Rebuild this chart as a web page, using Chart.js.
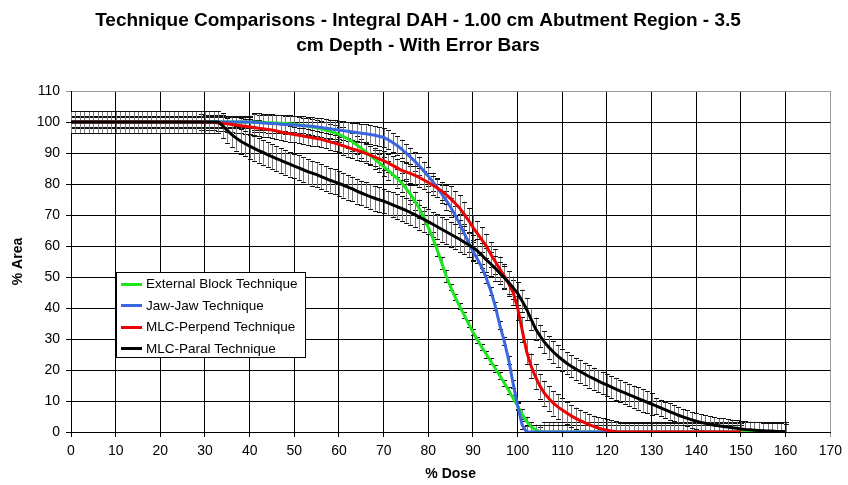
<!DOCTYPE html>
<html>
<head>
<meta charset="utf-8">
<script src="https://cdn.jsdelivr.net/npm/chart.js@4/dist/chart.umd.min.js"></script>
<style>
  html, body { margin:0; padding:0; background:#fff; }
  #wrap { position:relative; width:848px; height:485px; }
</style>
</head>
<body>
<div id="wrap"><canvas id="c" width="848" height="485"></canvas></div>
<script>
// ---------------- DATA ----------------
const TITLE_LINES = ["Technique Comparisons - Integral DAH - 1.00 cm Abutment Region - 3.5", "cm Depth - With Error Bars"];
const X_TITLE = "% Dose";
const Y_TITLE = "% Area";
const SERIES_NAMES = ["External Block Technique", "Jaw-Jaw Technique", "MLC-Perpend Technique", "MLC-Paral Technique"];

const DOSE = [
  0,1,2,3,4,5,6,7,8,9,
  10,11,12,13,14,15,16,17,18,19,
  20,21,22,23,24,25,26,27,28,29,
  30,31,32,33,34,35,36,37,38,39,
  40,41,42,43,44,45,46,47,48,49,
  50,51,52,53,54,55,56,57,58,59,
  60,61,62,63,64,65,66,67,68,69,
  70,71,72,73,74,75,76,77,78,79,
  80,81,82,83,84,85,86,87,88,89,
  90,91,92,93,94,95,96,97,98,99,
  100,101,102,103,104,105,106,107,108,109,
  110,111,112,113,114,115,116,117,118,119,
  120,121,122,123,124,125,126,127,128,129,
  130,131,132,133,134,135,136,137,138,139,
  140,141,142,143,144,145,146,147,148,149,
  150,151,152,153,154,155,156,157,158,159,
  160
];

// External Block Technique (dose 0..160)
const EXTERNAL_BLOCK = [
  100,100,100,100,100,100,100,100,100,100,
  100,100,100,100,100,100,100,100,100,100,
  100,100,100,100,100,100,100,100,100,100,
  100,100,100,100,100,100,100,100,100,100,
  100,100,99.9,99.9,99.8,99.8,99.7,99.6,99.5,99.4,
  99.3,99.1,98.9,98.7,98.4,98.1,97.8,97.4,97,96.5,
  96,95.3,94.5,93.6,92.6,91.5,90.4,89.2,88,86.8,
  85.6,84.4,83.1,81.8,80.4,78.6,76.7,74.5,72,69.2,
  66,62.5,58.7,54.5,50.3,46.7,43.5,40.6,37.8,35,
  32.2,29.7,27.3,25,22.8,20.5,18.2,15.8,13.4,10.9,
  8.4,5.8,3.4,1.7,0.7,0.2,0,0,0,0,
  0,0,0,0,0,0,0,0,0,0,
  0,0,0,0,0,0,0,0,0,0,
  0,0,0,0,0,0,0,0,0,0,
  0,0,0,0,0,0,0,0,0,0,
  0,0,0,0,0,0,0,0,0,0,
  0
];
const EXTERNAL_BLOCK_ERR = [
  2,2,2,2,2,2,2,2,2,2,
  2,2,2,2,2,2,2,2,2,2,
  2,2,2,2,2,2,2,2,2,2,
  2,2,2,2,2,2,2,2,2,2,
  2,2.5,2.5,2.5,2.5,2.5,2.5,2.5,2.5,2.5,
  2.5,2.5,2.5,2.5,2.5,2.5,2.5,2.5,2.5,2.5,
  2.5,3,3,3,3,3,3,3,3,3,
  3,3,3,3,3,3,3,3,3,2,
  2,2,2,2,2,1,1,1,1,1,
  1,1,1,1,1,1,1,1,1,1,
  1,1.5,1.5,1.5,1.5,1.5,3.3,3.3,3.3,3.3,
  3.3,3.3,3.3,3.3,3.3,3.3,3.3,3.3,3.3,3.3,
  3.3,3.3,3.3,3.3,3.3,3.3,3.3,3.3,3.3,3.3,
  3.3,3.3,3.3,3.3,3.3,3.3,3.3,3.3,3.3,3.3,
  3.3,3.3,3.3,3.3,3.3,3.3,3.3,3.3,3.3,3.3,
  3.3,3.3,3.3,3.3,3.3,3.3,3.3,3.3,3.3,3.3,
  3.3
];

// Jaw-Jaw Technique (dose 0..150)
const JAW_JAW = [
  100,100,100,100,100,100,100,100,100,100,
  100,100,100,100,100,100,100,100,100,100,
  100,100,100,100,100,100,100,100,100,100,
  100,100,100,100,100,100,100,100,100,100,
  100,99.9,99.8,99.7,99.6,99.5,99.4,99.3,99.2,99.1,
  99,98.9,98.8,98.7,98.6,98.4,98.2,98,97.8,97.6,
  97.4,97.2,97,96.8,96.6,96.4,96.2,96,95.7,95.4,
  95,94.3,93.4,92.4,91.3,90,88.7,87.3,85.8,84.2,
  82.5,80.7,78.8,76.8,74.7,72.5,70,67.2,64.2,61.2,
  58.3,55.7,53,49.5,45.5,40.5,34.5,29.3,23.2,15.5,
  8.5,2.3,0,0,0,0,0,0,0,0,
  0,0,0,0,0,0,0,0,0,0,
  0,0,0,0,0,0,0,0,0,0,
  0,0,0,0,0,0,0,0,0,0,
  0,0,0,0,0,0,0,0,0,0,
  0
];
const JAW_JAW_ERR = [
  1.6,1.6,1.6,1.6,1.6,1.6,1.6,1.6,1.6,1.6,
  1.6,1.6,1.6,1.6,1.6,1.6,1.6,1.6,1.6,1.6,
  1.6,1.6,1.6,1.6,1.6,1.6,1.6,1.6,1.6,1.6,
  1.6,1.6,1.6,1.6,1.6,1.6,1.6,1.6,1.6,1.6,
  1.6,3,3,3,3,3,3,3,3,3,
  3,3,3,3,3,3,3,3,3,3,
  3,3,3,3,3,3,3,3,3,3,
  3,3,3,3,3,3,3,3,3,3,
  3,3,3,3,3,3,3,3,3,3,
  3,1.3,1.3,1.3,1.3,1.3,1.3,1.3,1.3,1.3,
  1.3,1.3,2.4,2.4,2.4,2.4,2.4,2.4,2.4,2.4,
  2.4,2.4,2.4,2.4,2.4,2.4,2.4,2.4,2.4,2.4,
  2.4,2.4,2.4,2.4,2.4,2.4,2.4,2.4,2.4,2.4,
  2.4,2.4,2.4,2.4,2.4,2.4,2.4,2.4,2.4,2.4,
  2.4,2.4,2.4,2.4,2.4,2.4,2.4,2.4,2.4,2.4,
  2.4
];

// MLC-Perpend Technique (dose 0..150)
const MLC_PERPEND = [
  100,100,100,100,100,100,100,100,100,100,
  100,100,100,100,100,100,100,100,100,100,
  100,100,100,100,100,100,100,100,100,100,
  99.9,99.9,99.8,99.7,99.6,99.4,99.2,99,98.8,98.6,
  98.4,98.2,98,97.8,97.6,97.4,97.1,96.8,96.5,96.2,
  96,95.7,95.5,95.2,94.9,94.7,94.4,94,93.6,93.2,
  92.8,92.3,91.8,91.3,90.9,90.4,89.9,89.3,88.7,88.1,
  87.5,86.8,86,85.2,84.4,83.9,83.4,82.8,82.1,81.3,
  80.5,79.6,78.7,77.7,76.6,75.2,73.8,72.3,70.3,68.3,
  66,64,62,60,57.3,55,52.6,50.3,47.8,45,
  40,33,26,21.3,17.8,14.8,12.5,10.8,9.3,8.1,
  7.1,6.1,5.2,4.4,3.7,3,2.4,1.8,1.3,0.9,
  0.6,0.3,0.1,0,0,0,0,0,0,0,
  0,0,0,0,0,0,0,0,0,0,
  0,0,0,0,0,0,0,0,0,0,
  0
];
const MLC_PERPEND_ERR = [
  1.6,1.6,1.6,1.6,1.6,1.6,1.6,1.6,1.6,1.6,
  1.6,1.6,1.6,1.6,1.6,1.6,1.6,1.6,1.6,1.6,
  1.6,1.6,1.6,1.6,1.6,1.6,1.6,1.6,1.6,2.5,
  2.5,2.5,2.5,2.5,2.5,2.5,2.5,2.5,2.5,2.5,
  2.5,2.5,2.5,2.5,2.5,2.5,2.5,2.5,2.5,2.5,
  2.5,2.5,2.5,2.5,2.5,2.5,2.5,2.5,2.5,2.5,
  2.5,3,3,3,3,3,3,3,3,3,
  3,3,3,3,3,3,3,3,3,3,
  3,3,3,3,3,4,4,4,4,4,
  4,4,4,4,4,4,4,4,4,4,
  4,4,4,4,4,4,4,4,4,4,
  4,3.5,3.5,3.5,3.5,3.5,3.5,3.5,3.5,3.5,
  3.5,3.5,3.5,2.9,2.9,2.9,2.9,2.9,2.9,2.9,
  2.9,2.9,2.9,2.9,2.9,2.9,2.9,2.9,2.9,2.9,
  2.9,2.9,2.9,2.9,2.9,2.9,2.9,2.9,2.9,2.9,
  2.9
];

// MLC-Paral Technique (dose 0..160)
const MLC_PARAL = [
  100,100,100,100,100,100,100,100,100,100,
  100,100,100,100,100,100,100,100,100,100,
  100,100,100,100,100,100,100,100,100,100,
  100,100,100,100,98.8,97.3,95.9,94.8,93.8,93,
  92.2,91.5,90.8,90.2,89.5,88.8,88.2,87.6,87,86.4,
  85.8,85.2,84.6,84,83.5,83,82.4,81.8,81.2,80.7,
  80.2,79.6,79,78.4,77.7,77.1,76.5,75.9,75.4,74.9,
  74.5,73.9,73.3,72.7,72.1,71.5,70.8,70.1,69.3,68.6,
  67.8,67,66.2,65.4,64.6,63.8,63,62.2,61.3,60.4,
  59.5,58.4,57,55.5,54.2,52.8,51.2,49.8,48.2,46.5,
  44.7,42.3,39.6,36.4,33.3,31,29,27.3,25.8,24.5,
  23.3,22.2,21.2,20.3,19.5,18.7,17.9,17.2,16.5,15.8,
  15.2,14.5,13.8,13.2,12.6,12,11.4,10.8,10.2,9.6,
  9,8.4,7.8,7.2,6.6,6,5.4,4.9,4.4,3.9,
  3.5,3.1,2.8,2.5,2.2,2,1.8,1.6,1.4,1.2,
  1,0.8,0.7,0.6,0.5,0.4,0.3,0.3,0.2,0.2,
  0.1
];
const MLC_PARAL_ERR = [
  3.5,3.5,3.5,3.5,3.5,3.5,3.5,3.5,3.5,3.5,
  3.5,3.5,3.5,3.5,3.5,3.5,3.5,3.5,3.5,3.5,
  3.5,3.5,3.5,3.5,3.5,3.5,3.5,3.5,3.5,3.5,
  3.5,3.5,3.5,3.5,4,4,4,4,4,4,
  4,4,4,4,4,4,4,4,4,4,
  4,4,4,4,4,4,4,4,4,4,
  4,4,4,4,4,4,4,4,4,4,
  4,4,4,4,4,4,4,4,4,4,
  4,4,4,4,4,4,4,4,4,4,
  4,4,4,4,4,4,3.6,3.6,3.6,3.6,
  3.6,3.6,3.6,3.6,3.6,3.6,3.6,3.6,3.6,3.6,
  3.6,3.6,3.6,3.6,3.6,3.6,3.6,3.6,3.6,3.6,
  3.6,3.6,3.6,3.6,3.6,3.6,3.6,3.6,3.6,3.6,
  3.6,2.6,2.6,2.6,2.6,2.6,2.6,2.6,2.6,2.6,
  2.6,2.6,2.6,2.6,2.6,2.6,2.6,2.6,2.6,2.6,
  2.6,2.6,2.6,2.6,2.6,2.6,2.6,2.6,2.6,2.6,
  2.6
];

const X_TICKS = [0,10,20,30,40,50,60,70,80,90,100,110,120,130,140,150,160,170];
const Y_TICKS = [0,10,20,30,40,50,60,70,80,90,100,110];

// ---------------- STYLE ----------------
const FONT = "'Liberation Sans', Arial, Helvetica, sans-serif";
const COLORS = ["#1ee61e", "#3a66e0", "#ee0000", "#000000"];
const DRAW_ORDER = [3, 2, 1, 0]; // lower = on top

function toPoints(vals){ return vals.map((v, i) => ({x: DOSE[i], y: v})); }

const seriesVals = [EXTERNAL_BLOCK, JAW_JAW, MLC_PERPEND, MLC_PARAL];
const seriesErr = [EXTERNAL_BLOCK_ERR, JAW_JAW_ERR, MLC_PERPEND_ERR, MLC_PARAL_ERR];

const datasets = seriesVals.map((vals, k) => ({
  label: SERIES_NAMES[k],
  data: toPoints(vals),
  errors: seriesErr[k],
  borderColor: COLORS[k],
  backgroundColor: COLORS[k],
  borderWidth: 3,
  pointRadius: 0,
  tension: 0,
  fill: false,
  order: DRAW_ORDER[k]
}));

const errorBarPlugin = {
  id: 'errorBars',
  beforeDatasetsDraw(chart) {
    const {ctx, chartArea: a, scales: {x, y}} = chart;
    ctx.save();
    ctx.beginPath();
    ctx.rect(a.left, a.top - 1, a.right - a.left, a.bottom - a.top + 1);
    ctx.clip();
    const capHalf = 2.5;
    chart.data.datasets.forEach((ds) => {
      ctx.strokeStyle = '#7a7a7a';
      ctx.lineWidth = 1;
      ctx.beginPath();
      ds.data.forEach((p, i) => {
        const e = ds.errors[i];
        const px = Math.round(x.getPixelForValue(p.x)) + 0.5;
        ctx.moveTo(px, y.getPixelForValue(p.y + e));
        ctx.lineTo(px, y.getPixelForValue(p.y - e));
      });
      ctx.stroke();
      ctx.strokeStyle = '#111';
      ctx.beginPath();
      ds.data.forEach((p, i) => {
        const e = ds.errors[i];
        const px = Math.round(x.getPixelForValue(p.x)) + 0.5;
        const yt = Math.round(y.getPixelForValue(p.y + e)) + 0.5;
        const yb = Math.round(y.getPixelForValue(p.y - e)) + 0.5;
        ctx.moveTo(px - capHalf, yt); ctx.lineTo(px + capHalf, yt);
        ctx.moveTo(px - capHalf, yb); ctx.lineTo(px + capHalf, yb);
      });
      ctx.stroke();
    });
    ctx.restore();
  }
};

const LEGEND_BOX = {left: 116, top: 272, width: 189, height: 85, rowH: 21.5, firstRow: 11.5};
const inChartLegend = {
  id: 'inChartLegend',
  afterDraw(chart) {
    const ctx = chart.ctx;
    const b = LEGEND_BOX;
    ctx.save();
    ctx.fillStyle = '#fff';
    ctx.fillRect(b.left, b.top, b.width, b.height);
    ctx.strokeStyle = '#000';
    ctx.lineWidth = 1;
    ctx.strokeRect(b.left + 0.5, b.top + 0.5, b.width, b.height);
    ctx.font = "13.5px " + FONT;
    ctx.textBaseline = 'middle';
    SERIES_NAMES.forEach((name, k) => {
      const cy = b.top + b.firstRow + k * b.rowH;
      ctx.strokeStyle = COLORS[k];
      ctx.lineWidth = 3;
      ctx.beginPath();
      ctx.moveTo(b.left + 5, Math.round(cy) + 0.5);
      ctx.lineTo(b.left + 26, Math.round(cy) + 0.5);
      ctx.stroke();
      ctx.fillStyle = '#000';
      ctx.fillText(name, b.left + 30, cy + 1);
    });
    ctx.restore();
  }
};

new Chart(document.getElementById('c'), {
  type: 'line',
  data: { datasets },
  options: {
    responsive: false,
    animation: false,
    devicePixelRatio: 1,
    layout: { padding: { left: 0, right: 12, top: 0, bottom: 0 } },
    plugins: {
      legend: { display: false },
      tooltip: { enabled: false },
      title: {
        display: true,
        text: TITLE_LINES,
        color: '#000',
        font: { family: FONT, size: 19, weight: 'bold', lineHeight: 1.316 },
        padding: { top: 8, bottom: 33 }
      }
    },
    scales: {
      x: {
        type: 'linear',
        min: 0, max: 170,
        afterBuildTicks: (s) => { s.ticks = X_TICKS.map(v => ({value: v})); },
        afterFit: (s) => { s.height = 53; },
        ticks: { color: '#000', font: { family: FONT, size: 14 }, padding: 6, maxRotation: 0 },
        grid: { color: (c) => (c.tick && c.tick.value === 170) ? '#9a9a9a' : '#000', lineWidth: 1, tickLength: 5 },
        border: { color: '#000', width: 1 },
        title: { display: true, text: X_TITLE, color: '#000', font: { family: FONT, size: 14, weight: 'bold' }, padding: { top: 0, bottom: 2 } }
      },
      y: {
        type: 'linear',
        min: 0, max: 110,
        afterBuildTicks: (s) => { s.ticks = Y_TICKS.map(v => ({value: v})); },
        afterFit: (s) => { s.width = 71; },
        ticks: { color: '#000', font: { family: FONT, size: 14 }, padding: 6 },
        grid: { color: (c) => (c.tick && c.tick.value === 110) ? '#9a9a9a' : '#000', lineWidth: 1, tickLength: 5 },
        border: { color: '#000', width: 1 },
        title: { display: true, text: Y_TITLE, color: '#000', font: { family: FONT, size: 14, weight: 'bold' }, padding: { top: 10, bottom: 0 } }
      }
    }
  },
  plugins: [errorBarPlugin, inChartLegend]
});
</script>
</body>
</html>
